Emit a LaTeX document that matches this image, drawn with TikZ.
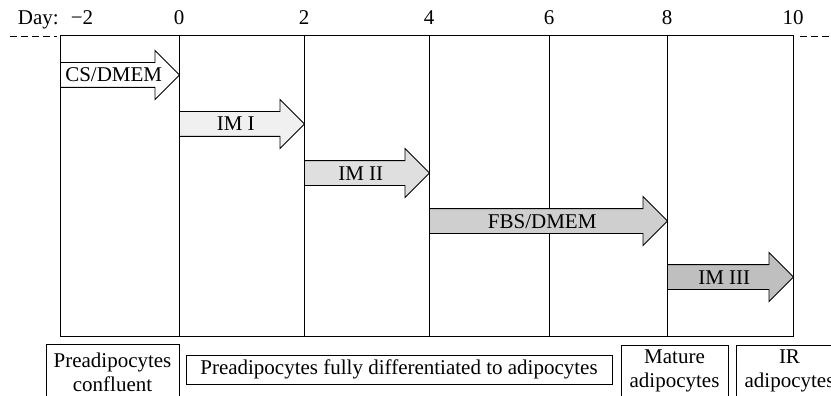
\documentclass[tikz,border=0pt]{standalone}
\usepackage{fontspec}
\setmainfont{Liberation Serif}
\usetikzlibrary{shapes.arrows}

\begin{document}
\begin{tikzpicture}[x=1pt, y=-1pt,
  font=\fontsize{21}{24}\selectfont,
  every node/.style={align=center},
  grid/.style={line width=1pt},
  stage/.style={single arrow, draw, line width=0.9pt, anchor=tail,
    single arrow head extend=12pt, single arrow tip angle=90,
    text height=14pt, text depth=0pt, inner ysep=5pt, inner xsep=0pt},
  cell/.style={draw, line width=0.9pt, inner xsep=2pt},
  opencell/.style={cell, anchor=north, text depth=14pt},
  day/.style={inner sep=0pt, anchor=base},
  dashline/.style={line width=0.9pt, dash pattern=on 7pt off 4pt}]

\useasboundingbox (0,0) rectangle (831,396);
\clip (0,0) rectangle (831,396);

% ---------------- day axis ----------------
\node[day] (dm2) at (82,25) {−2};
\node[day, anchor=base east] (dlab) at (59,25) {Day:};
\foreach \x/\d in {179/0,304/2,429/4,549/6,667/8,793/10}
  \node[day] (d\d) at (\x,25) {\d};

% ---------------- frame and day lines ----------------
\draw[grid] (60,36) rectangle (793,336);
\foreach \x in {179,304,429,549,667}
  \draw[grid] (\x,36) -- (\x,336);
\draw[dashline] (10,36) -- (57,36);
\draw[dashline] (800,36) -- (831,36);

% ---------------- media ----------------
\node[stage, fill=white, minimum height=119] (cs) at (60,75) {CS/DMEM};
\node[stage, fill=gray!12, minimum height=125] (im1) at (179,124) {IM I};
\node[stage, fill=gray!25, minimum height=125] (im2) at (304,173) {IM II};
\node[stage, fill=gray!38, minimum height=238] (fbs) at (429,221) {FBS/DMEM};
\node[stage, fill=gray!50, minimum height=126] (im3) at (667,277) {IM III};

% ---------------- cell states ----------------
\node[opencell, minimum width=133, inner ysep=8pt] (conf) at (112.5,344) {Preadipocytes\\confluent};
\node[cell, minimum width=426, minimum height=29] (diff) at (399,369.5) {Preadipocytes fully differentiated to adipocytes};
\node[opencell, minimum width=107, inner ysep=4pt] (mat) at (674.5,345) {Mature\\adipocytes};
\node[opencell, minimum width=107, inner ysep=4pt] (ir) at (789.5,345) {IR\\adipocytes};
\end{tikzpicture}
\end{document}
